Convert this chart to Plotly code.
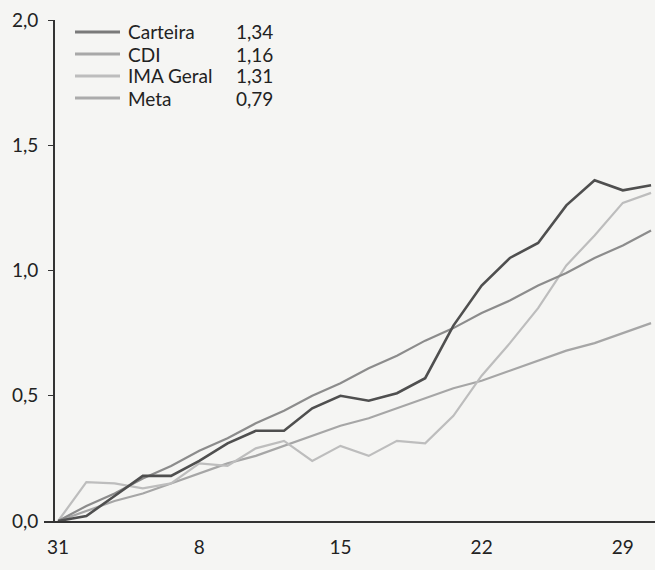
import plotly.graph_objects as go

# Business days (Dec 31 -> Jan 30)
days = ["31", "2", "3", "6", "7", "8", "9", "10", "13", "14", "15", "16", "17",
        "20", "21", "22", "23", "24", "27", "28", "29", "30"]

carteira = [0, 0.02, 0.10, 0.18, 0.18, 0.24, 0.31, 0.36, 0.36, 0.45, 0.50, 0.48,
            0.51, 0.57, 0.78, 0.94, 1.05, 1.11, 1.26, 1.36, 1.32, 1.34]
cdi = [0, 0.06, 0.11, 0.17, 0.22, 0.28, 0.33, 0.39, 0.44, 0.50, 0.55, 0.61,
       0.66, 0.72, 0.77, 0.83, 0.88, 0.94, 0.99, 1.05, 1.10, 1.16]
ima_geral = [0, 0.155, 0.15, 0.13, 0.15, 0.23, 0.22, 0.29, 0.32, 0.24, 0.30, 0.26,
             0.32, 0.31, 0.42, 0.58, 0.71, 0.85, 1.02, 1.14, 1.27, 1.31]
meta = [0, 0.04, 0.08, 0.11, 0.15, 0.19, 0.23, 0.26, 0.30, 0.34, 0.38, 0.41,
        0.45, 0.49, 0.53, 0.56, 0.60, 0.64, 0.68, 0.71, 0.75, 0.79]

series_names = ["Carteira", "CDI", "IMA Geral", "Meta"]
series_values = [carteira, cdi, ima_geral, meta]
legend_values = ["1,34", "1,16", "1,31", "0,79"]
colors = ["#4f4f4f", "#8c8c8c", "#bdbdbd", "#a6a6a6"]
widths = [2.6, 2.2, 2.2, 2.2]
legend_colors = ["#7a7a7a", "#a8a8a8", "#bdbdbd", "#ababab"]

xtick_vals = ["31", "8", "15", "22", "29"]
ytick_vals = [0.0, 0.5, 1.0, 1.5, 2.0]

W, H = 655, 570
ML, MR, MT, MB = 44, 0, 20, 49
PW, PH = W - ML - MR, H - MT - MB

def px(x):
    return (x - ML) / PW

def py(y):
    return (H - MB - y) / PH

fig = go.Figure()
# draw order: Meta, IMA, CDI, Carteira on top
for i in [3, 2, 1, 0]:
    fig.add_trace(go.Scatter(
        x=days, y=series_values[i], mode="lines", name=series_names[i],
        line=dict(color=colors[i], width=widths[i]), showlegend=False))

font = "Lato, 'Open Sans', sans-serif"
shapes = []
annotations = []
row_y = [32, 54, 76, 98]
for i, name in enumerate(series_names):
    yy = py(row_y[i])
    shapes.append(dict(type="line", xref="paper", yref="paper",
                       x0=px(75), x1=px(120), y0=yy, y1=yy,
                       line=dict(color=legend_colors[i], width=3.2)))
    annotations.append(dict(xref="paper", yref="paper", x=px(126), y=yy,
                            text=name, showarrow=False, xanchor="left",
                            yanchor="middle",
                            font=dict(family=font, size=19, color="#222")))
    annotations.append(dict(xref="paper", yref="paper", x=px(234), y=yy,
                            text=legend_values[i], showarrow=False,
                            xanchor="left", yanchor="middle",
                            font=dict(family=font, size=19, color="#222")))

fig.update_layout(
    width=W, height=H,
    margin=dict(l=ML, r=MR, t=MT, b=MB, pad=0, autoexpand=False),
    paper_bgcolor="#f5f5f3", plot_bgcolor="#f5f5f3",
    separators=", ",
    font=dict(family=font, size=19, color="#222"),
    shapes=shapes, annotations=annotations,
    xaxis=dict(type="category", range=[-0.5, 21.14], automargin=False,
               tickvals=xtick_vals, ticktext=xtick_vals,
               showgrid=False, zeroline=False,
               showline=True, linecolor="#333", linewidth=1.6,
               ticks="", ticklabelstandoff=8,
               tickfont=dict(family=font, size=19, color="#222")),
    yaxis=dict(range=[0, 2.0], tickvals=ytick_vals, tickformat=".1f",
               anchor="free", position=px(54), automargin=False,
               showgrid=False, zeroline=False,
               showline=True, linecolor="#333", linewidth=1.6,
               ticks="outside", ticklen=5, tickcolor="#333", tickwidth=1.4,
               ticklabelstandoff=6,
               tickfont=dict(family=font, size=19, color="#222")),
)

fig.write_html("out.html",
               config={"displayModeBar": False},
               post_script="document.body.style.margin='0';"
                           "document.body.style.background='#f5f5f3';")
